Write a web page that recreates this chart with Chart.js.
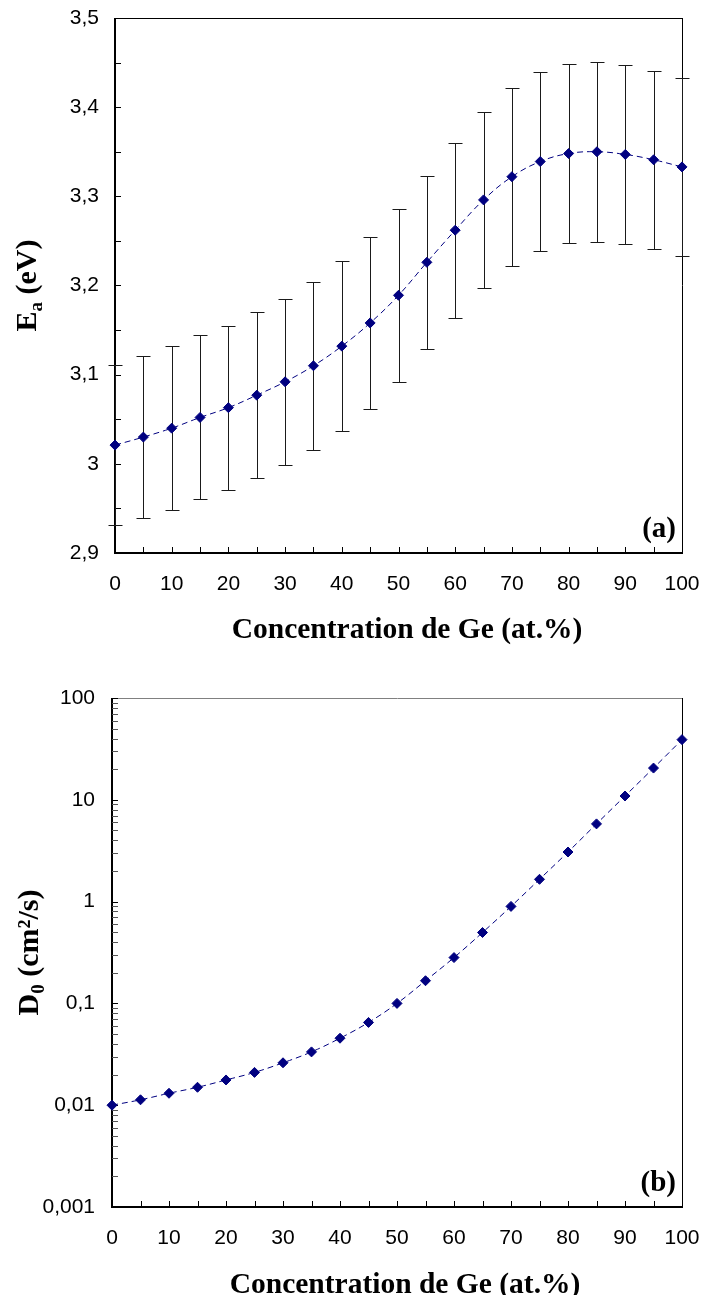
<!DOCTYPE html>
<html><head><meta charset="utf-8">
<script src="https://cdn.jsdelivr.net/npm/chart.js@4.4.1/dist/chart.umd.min.js"></script>
<style>
html,body{margin:0;padding:0;background:#fff;width:701px;height:1295px;overflow:hidden;}
#wrapA{position:absolute;left:0;top:0;width:701px;height:660px;}
#wrapB{position:absolute;left:0;top:660px;width:701px;height:635px;}
canvas{display:block;}
</style></head><body>
<div id="wrapA"><canvas id="chartA" width="701" height="660"></canvas></div>
<div id="wrapB"><canvas id="chartB" width="701" height="635"></canvas></div>
<script>
// ---- data ----
const concentration = [0,5,10,15,20,25,30,35,40,45,50,55,60,65,70,75,80,85,90,95,100];
const activationEnergy = [3.021,3.030,3.040,3.052,3.063,3.077,3.092,3.110,3.132,3.158,3.189,3.226,3.262,3.296,3.322,3.339,3.348,3.350,3.347,3.341,3.333];
const activationError = [0.090,0.091,0.092,0.092,0.092,0.093,0.093,0.094,0.095,0.096,0.097,0.097,0.098,0.099,0.100,0.100,0.100,0.101,0.100,0.100,0.100];
const preExponential = [0.0100,0.0113,0.0131,0.0150,0.0177,0.0210,0.0261,0.0334,0.0455,0.065,0.100,0.167,0.282,0.497,0.897,1.655,3.07,5.8,10.9,20.5,39.0];
const ticksX = [0,10,20,30,40,50,60,70,80,90,100];
const ticksEa = [2.9,3.0,3.1,3.2,3.3,3.4,3.5];
const ticksD0 = [0.001,0.01,0.1,1,10,100];
const xTitle = 'Concentration de Ge (at.%)';
const yTitleA = ['E','a',' (eV)'];
const yTitleB = ['D','0',' (cm\u00B2/s)'];
const panelA = '(a)';
const panelB = '(b)';

const NAVY = '#000080';
const fmt = v => String(Number(v.toPrecision(6))).replace('.', ',');

function hline(ctx,x1,y,x2){ctx.beginPath();ctx.moveTo(x1,y);ctx.lineTo(x2,y);ctx.stroke();}
function vline(ctx,x,y1,y2){ctx.beginPath();ctx.moveTo(x,y1);ctx.lineTo(x,y2);ctx.stroke();}

function makePlugin(cfg){
  return {
    id:'decor',
    beforeDatasetsDraw(chart){
      const ctx = chart.ctx, a = chart.chartArea, xs = chart.scales.x, ys = chart.scales.y;
      ctx.save();
      // frame
      ctx.lineWidth = 1;
      ctx.strokeStyle = cfg.topColor;
      hline(ctx, a.left, Math.round(a.top)+0.5, a.right+1);
      ctx.strokeStyle = '#000';
      vline(ctx, Math.round(a.right)+0.5, a.top, a.bottom);
      ctx.lineWidth = 2;
      vline(ctx, Math.round(a.left), a.top, a.bottom+1);
      hline(ctx, a.left-1, Math.round(a.bottom), a.right+1);
      // inward ticks
      const TL = 6;
      ctx.lineWidth = 1;
      ctx.strokeStyle = '#000';
      const xv = [];
      for (let i=0;i<ticksX.length;i++){ xv.push(ticksX[i]); if(i<ticksX.length-1) xv.push((ticksX[i]+ticksX[i+1])/2); }
      xv.forEach(v=>{ const px=Math.round(xs.getPixelForValue(v))+0.5; vline(ctx, px, a.bottom, a.bottom-TL); });
      let yv = [];
      if (cfg.log){
        for (let i=0;i<ticksD0.length;i++){ yv.push({v:ticksD0[i],m:true}); if(i<ticksD0.length-1){ for(let k=2;k<=9;k++) yv.push({v:k*ticksD0[i],m:false}); } }
      } else {
        for (let i=0;i<ticksEa.length;i++){ yv.push({v:ticksEa[i],m:true}); if(i<ticksEa.length-1) yv.push({v:(ticksEa[i]+ticksEa[i+1])/2,m:false}); }
      }
      yv.forEach(t=>{ const py=Math.round(ys.getPixelForValue(t.v))+0.5; ctx.strokeStyle = (cfg.log && !t.m) ? '#555' : '#000'; hline(ctx, a.left, py, a.left+TL); });
      // error bars
      if (cfg.errors){
        ctx.strokeStyle = '#1a1a1a';
        ctx.lineWidth = 1;
        concentration.forEach((c,i)=>{
          const px = Math.round(xs.getPixelForValue(c))+0.5;
          const hi = Math.round(ys.getPixelForValue(activationEnergy[i]+activationError[i]))+0.5;
          const lo = Math.round(ys.getPixelForValue(activationEnergy[i]-activationError[i]))+0.5;
          vline(ctx, px, hi, lo);
          hline(ctx, px-7, hi, px+7);
          hline(ctx, px-7, lo, px+7);
        });
      }
      ctx.restore();
    },
    afterDraw(chart){
      const ctx = chart.ctx, a = chart.chartArea;
      ctx.save();
      ctx.fillStyle = '#000';
      ctx.font = 'bold 29.5px "Liberation Serif","Times New Roman",serif';
      ctx.textAlign = 'center';
      ctx.textBaseline = 'alphabetic';
      ctx.fillText(xTitle, cfg.xTitleX, a.bottom + cfg.xTitleDy);
      ctx.font = 'bold 29px "Liberation Serif","Times New Roman",serif';
      ctx.textAlign = 'right';
      ctx.fillText(cfg.panel, a.right - 6, a.bottom - 16);
      const parts = cfg.yTitle;
      const big = 'bold 30px "Liberation Serif","Times New Roman",serif';
      const small = 'bold 19px "Liberation Serif","Times New Roman",serif';
      ctx.font = big; const w0 = ctx.measureText(parts[0]).width; const w2 = ctx.measureText(parts[2]).width;
      ctx.font = small; const w1 = ctx.measureText(parts[1]).width;
      const total = w0+w1+w2;
      ctx.translate(cfg.yTitleX, (a.top+a.bottom)/2);
      ctx.rotate(-Math.PI/2);
      ctx.textAlign = 'left';
      let x0 = -total/2;
      const base = 10;
      ctx.font = big; ctx.fillText(parts[0], x0, base);
      ctx.font = small; ctx.fillText(parts[1], x0+w0, base+6);
      ctx.font = big; ctx.fillText(parts[2], x0+w0+w1, base);
      ctx.restore();
    }
  };
}

const tickFont = {family:'"Liberation Sans", Arial, sans-serif', size:21};

function baseOptions(o){
  return {
    responsive:false,
    animation:false,
    devicePixelRatio:1,
    layout:{padding:{top:o.top,right:19,left:0,bottom:0}},
    plugins:{legend:{display:false},tooltip:{enabled:false}},
    scales:{
      x:{
        type:'linear', min:0, max:100,
        grid:{display:false, drawTicks:false},
        border:{display:false},
        afterBuildTicks:s=>{ s.ticks = ticksX.map(v=>({value:v})); },
        afterFit:s=>{ s.height = o.xh; s.paddingLeft = 0; s.paddingRight = 0; },
        ticks:{font:tickFont, color:'#000', padding:19, maxRotation:0, autoSkip:false, callback:v=>fmt(v)}
      },
      y:{
        type:o.log?'logarithmic':'linear', min:o.ymin, max:o.ymax,
        grid:{display:false, drawTicks:false},
        border:{display:false},
        afterBuildTicks:s=>{ s.ticks = o.yticks.map(v=>({value:v})); },
        afterFit:s=>{ s.width = o.yw; s.paddingTop = 0; s.paddingBottom = 0; },
        ticks:{font:tickFont, color:'#000', padding:o.ypad, autoSkip:false, callback:v=>fmt(v)}
      }
    }
  };
}

function dataset(vals){
  return {
    data: concentration.map((c,i)=>({x:c, y:vals[i]})),
    borderColor: NAVY, borderWidth:1, borderDash:[6,4], tension:0.4,
    pointStyle:'rectRot', pointRadius:5, pointBackgroundColor:NAVY, pointBorderColor:NAVY, pointBorderWidth:1,
    clip:false, fill:false
  };
}

new Chart(document.getElementById('chartA'), {
  type:'line',
  data:{datasets:[dataset(activationEnergy)]},
  options: baseOptions({top:18, xh:660-553, ymin:2.9, ymax:3.5, yticks:ticksEa, yw:115, ypad:16, log:false}),
  plugins:[makePlugin({topColor:'#000', errors:true, panel:panelA, yTitle:yTitleA, yTitleX:26, xTitleX:407, xTitleDy:85, log:false})]
});

new Chart(document.getElementById('chartB'), {
  type:'line',
  data:{datasets:[dataset(preExponential)]},
  options: baseOptions({top:38, xh:635-547, ymin:0.001, ymax:100, yticks:ticksD0, yw:112, ypad:17, log:true}),
  plugins:[makePlugin({topColor:'#808080', errors:false, panel:panelB, yTitle:yTitleB, yTitleX:28, xTitleX:405, xTitleDy:86, log:true})]
});
</script>
</body></html>
